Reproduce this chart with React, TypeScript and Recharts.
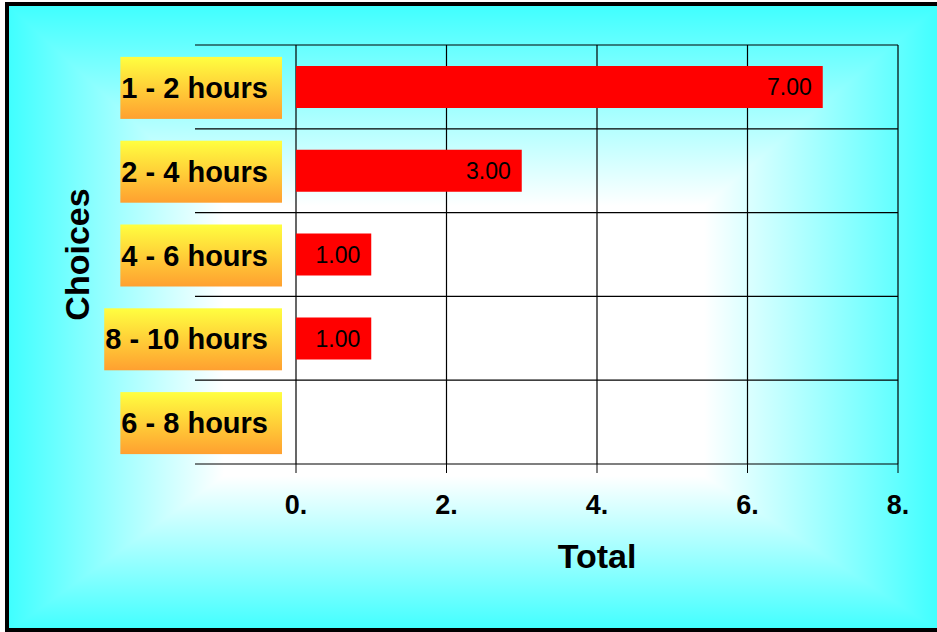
import React, { useLayoutEffect, useRef, useState } from 'react';
import { BarChart, Bar, XAxis, YAxis, CartesianGrid, LabelList } from 'recharts';

const categories = ['1 - 2 hours', '2 - 4 hours', '4 - 6 hours', '8 - 10 hours', '6 - 8 hours'];
const totals = [7, 3, 1, 1, 0];
const xTicks = [0, 2, 4, 6, 8];

const data = categories.map((c, i) => ({ choice: c, total: totals[i] }));

const W = 937;
const H = 632;
const MARGIN = { top: 45, right: 39, bottom: 68, left: 0 };
const FONT = 'Arial, "Liberation Sans", sans-serif';

const CatTick = (props: any) => {
  const { x, y, payload } = props;
  const ref = useRef<SVGTextElement>(null);
  const [tw, setTw] = useState(150);
  useLayoutEffect(() => {
    if (ref.current) {
      const w = ref.current.getComputedTextLength();
      if (Math.abs(w - tw) > 0.5) setTw(w);
    }
  });
  const textEnd = x - 28;
  const boxRight = x - 14;
  const boxLeft = textEnd - tw - 1;
  return (
    <g>
      <rect x={boxLeft} y={y - 30} width={boxRight - boxLeft} height={62} fill="url(#labelGrad)" />
      <text
        ref={ref}
        x={textEnd}
        y={y + 1}
        textAnchor="end"
        dominantBaseline="central"
        fontFamily={FONT}
        fontWeight="bold"
        fontSize={29}
        fill="#000"
      >
        {payload.value}
      </text>
    </g>
  );
};

const HLine = (props: any) => {
  const { x1, x2, y1 } = props;
  return <line x1={x1 - 101} x2={x2} y1={y1} y2={y1} stroke="#000" strokeWidth={1.2} />;
};

const VLine = (props: any) => {
  const { x1, y1, y2 } = props;
  return <line x1={x1} x2={x1} y1={y1} y2={y2} stroke="#000" strokeWidth={1.2} />;
};

const YTitle = (props: any) => {
  const { viewBox } = props;
  const cx = 77;
  const cy = viewBox.y + viewBox.height / 2;
  return (
    <text
      x={cx}
      y={cy}
      transform={`rotate(-90 ${cx} ${cy})`}
      textAnchor="middle"
      dominantBaseline="central"
      fontFamily={FONT}
      fontWeight="bold"
      fontSize={34}
      fill="#000"
    >
      Choices
    </text>
  );
};

const XTitle = (props: any) => {
  const { viewBox } = props;
  const cx = viewBox.x + viewBox.width / 2;
  return (
    <text
      x={cx}
      y={viewBox.y + 104}
      textAnchor="middle"
      fontFamily={FONT}
      fontWeight="bold"
      fontSize={34}
      fill="#000"
    >
      Total
    </text>
  );
};

export default function App() {
  return (
    <div
      style={{
        position: 'absolute',
        left: 0,
        top: 0,
        width: W,
        height: H,
        overflow: 'hidden',
        background: '#fff',
      }}
    >
      <div
        style={{
          position: 'absolute',
          left: 5,
          top: 2,
          width: W + 20,
          height: H - 2,
          boxSizing: 'border-box',
          border: '4px solid #000',
          backgroundImage:
            'linear-gradient(to right, #40ffff 0px, #ffffff 215px, #ffffff 695px, #40ffff 930px), linear-gradient(to bottom, #40ffff 0px, #ffffff 200px, #ffffff 470px, #40ffff 625px)',
          backgroundBlendMode: 'darken',
          backgroundSize: `${W - 5}px ${H - 2}px`,
          backgroundRepeat: 'no-repeat',
        }}
      />
      <div style={{ position: 'absolute', left: 0, top: 0 }}>
        <BarChart width={W} height={H} data={data} layout="vertical" margin={MARGIN} barSize={42}>
          <defs>
            <linearGradient id="labelGrad" x1="0" y1="0" x2="0" y2="1">
              <stop offset="0%" stopColor="#ffff40" />
              <stop offset="100%" stopColor="#ffa030" />
            </linearGradient>
          </defs>
          <CartesianGrid
            horizontal={<HLine />}
            vertical={<VLine />}
            horizontalCoordinatesGenerator={({ offset }: any) =>
              categories.map((_, i) => offset.top + (i * offset.height) / categories.length).concat([offset.top + offset.height])
            }
            stroke="#000"
          />
          <XAxis
            type="number"
            domain={[0, 8]}
            ticks={xTicks}
            interval={0}
            height={100}
            axisLine={false}
            tickSize={9}
            tickMargin={22}
            tickLine={{ stroke: '#000', strokeWidth: 1 }}
            tickFormatter={(v: number) => `${v}.`}
            tick={{ fill: '#000', fontFamily: FONT, fontWeight: 'bold', fontSize: 27 }}
            label={<XTitle />}
          />
          <YAxis
            type="category"
            dataKey="choice"
            width={296}
            axisLine={false}
            tickLine={false}
            tickSize={0}
            tickMargin={0}
            interval={0}
            tick={<CatTick />}
            label={<YTitle />}
          />
          <Bar dataKey="total" fill="#ff0000" isAnimationActive={false}>
            <LabelList
              dataKey="total"
              position="insideRight"
              offset={11}
              formatter={(v: any) => (Number(v) === 0 ? '' : Number(v).toFixed(2))}
              style={{ fill: '#000', fontFamily: FONT, fontSize: 23, fontWeight: 'normal' }}
            />
          </Bar>
        </BarChart>
      </div>
    </div>
  );
}
